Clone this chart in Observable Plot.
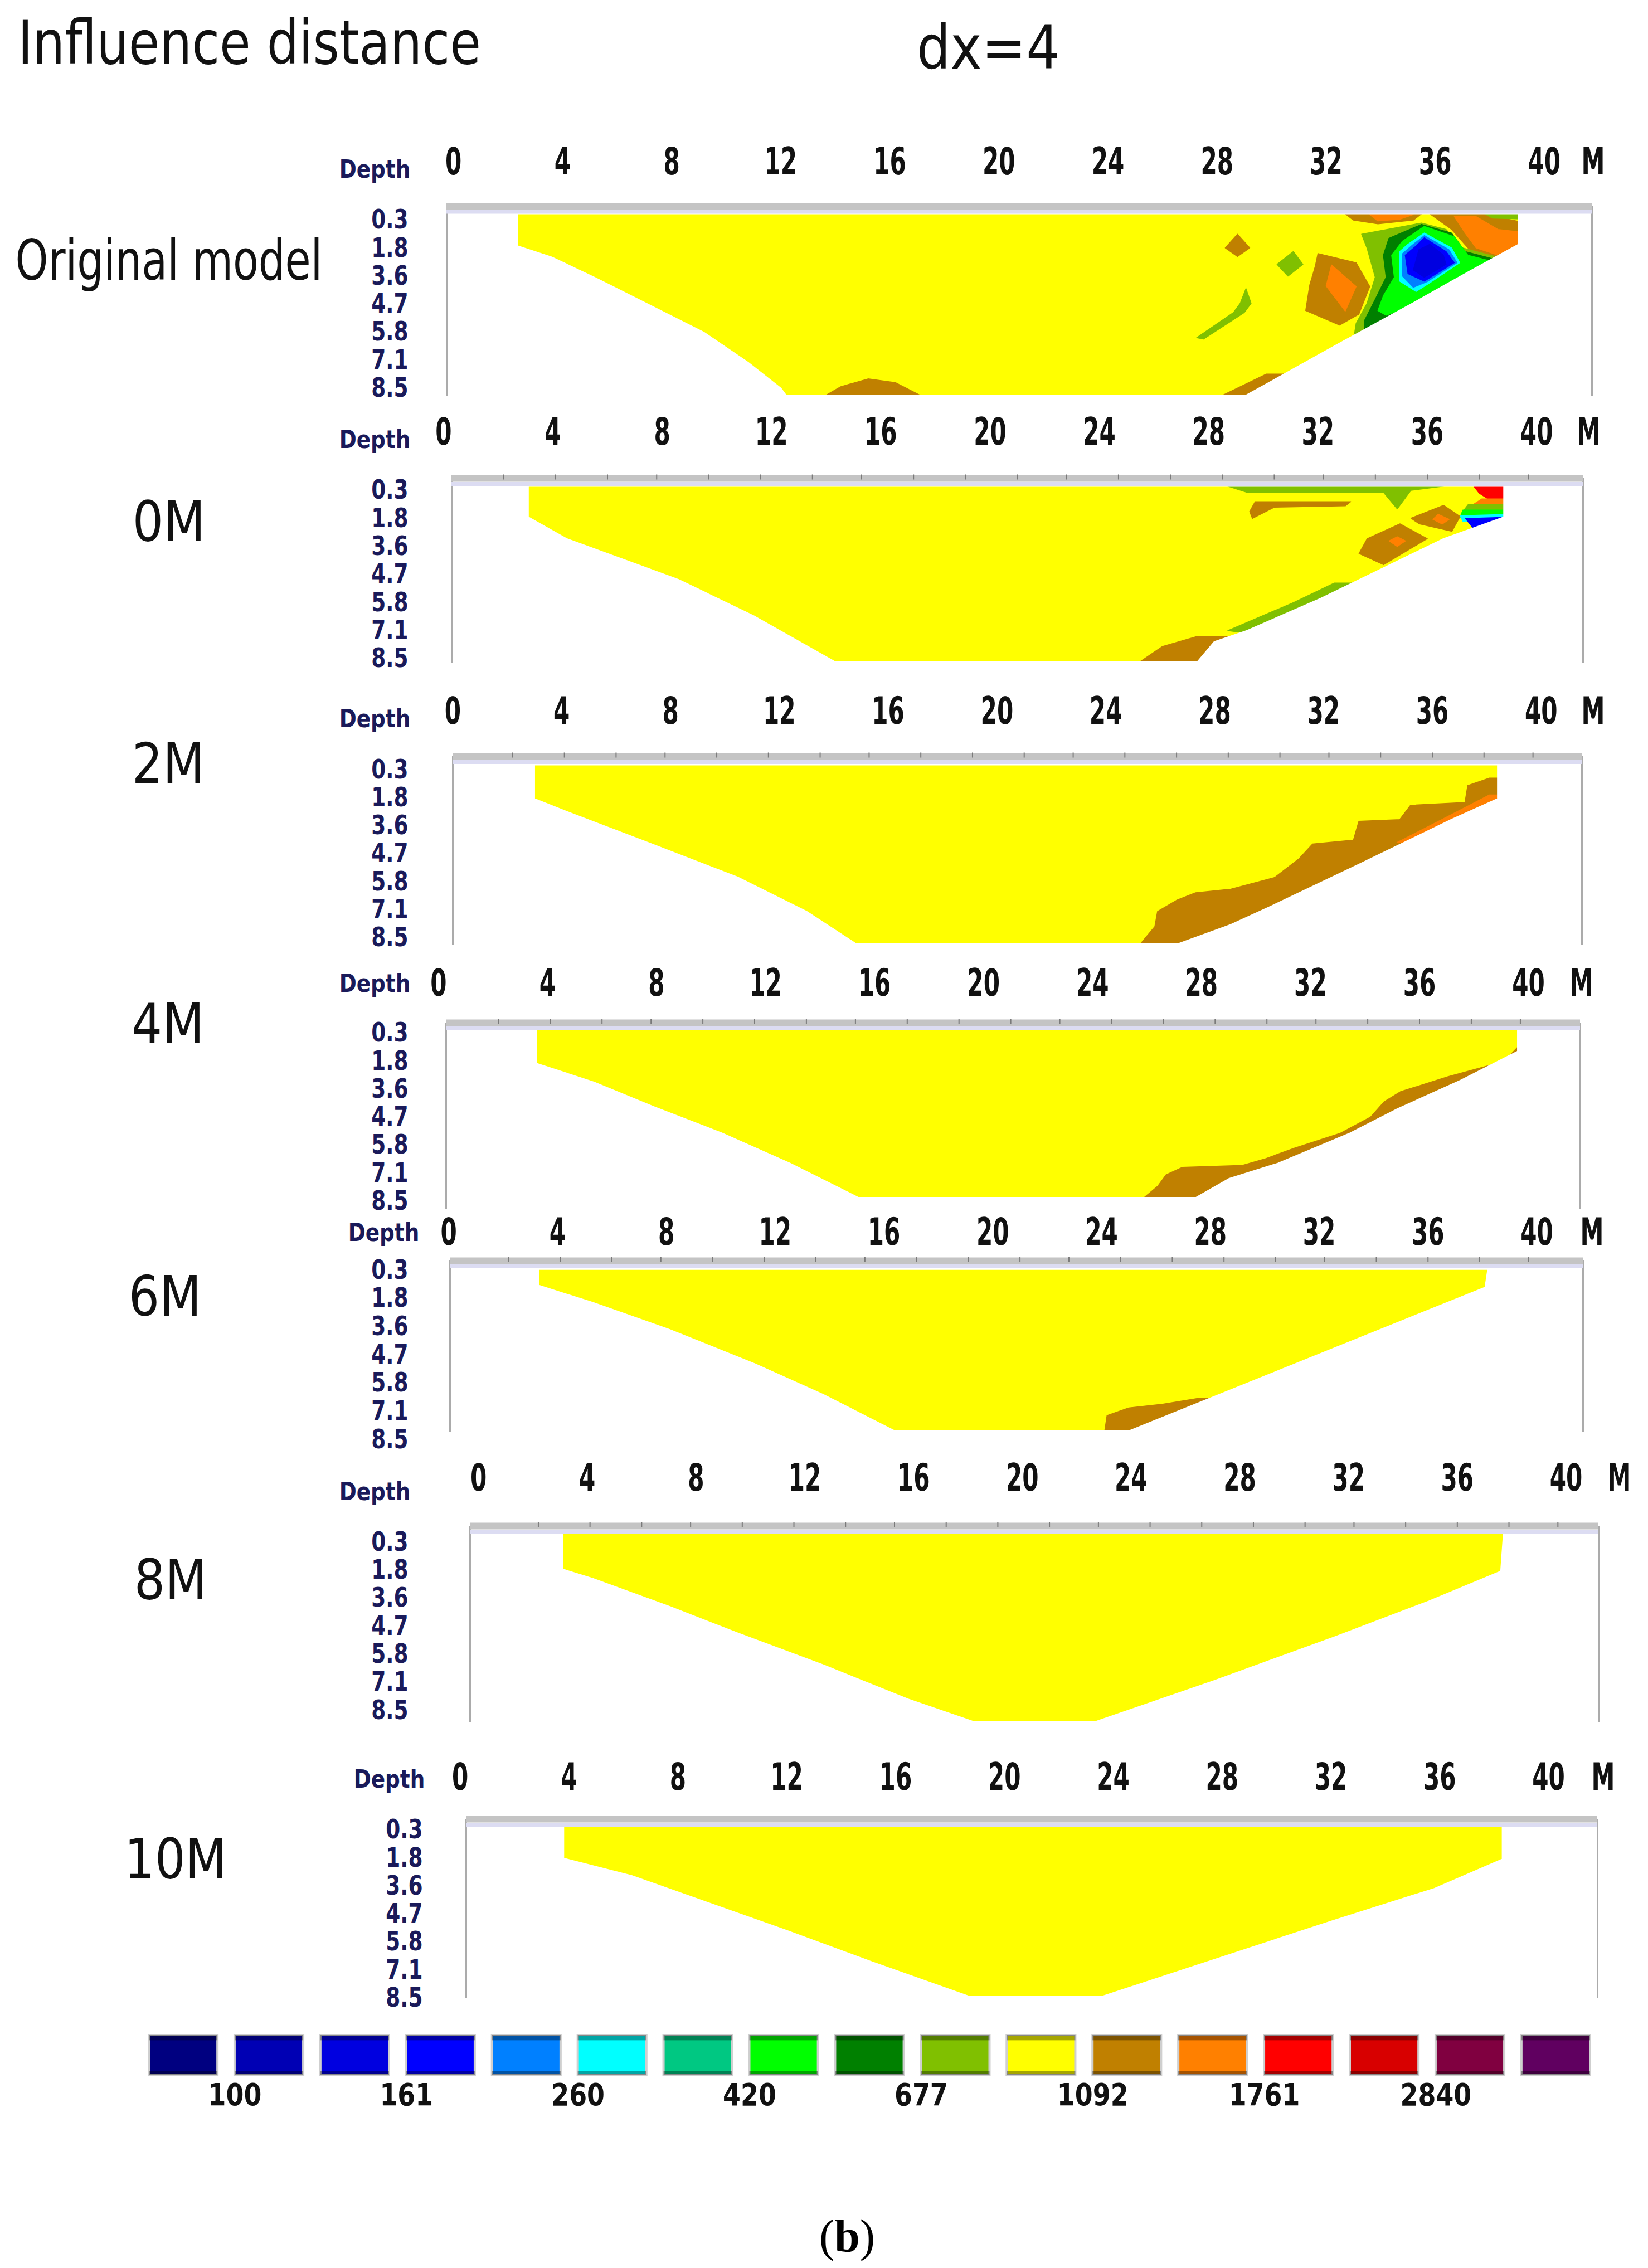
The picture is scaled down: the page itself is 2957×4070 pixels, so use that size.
<!DOCTYPE html>
<html>
<head>
<meta charset="utf-8">
<script src="https://cdn.jsdelivr.net/npm/d3@7"></script>
<script src="https://cdn.jsdelivr.net/npm/@observablehq/plot@0.6"></script>
<style>
  html, body { margin: 0; padding: 0; background: #fff; }
  #page { position: relative; width: 2957px; height: 4070px; overflow: hidden; background: #fff; }
  #page > svg, #page > div { position: absolute; left: 0; }
</style>
</head>
<body>
<div id="page"></div>
<script>
// ---------------- data ----------------
const xTicks = [0, 4, 8, 12, 16, 20, 24, 28, 32, 36, 40];
const depthLabels = ["0.3", "1.8", "3.6", "4.7", "5.8", "7.1", "8.5"];
const barTicks = [2.2, 4.1, 6.0, 7.8, 9.7, 11.6, 13.5, 15.3, 17.2, 19.1, 21.0, 22.8, 24.7, 26.6, 28.5, 30.4, 32.2, 34.1, 36.0, 37.9, 39.7];
const panelNames = ["Original model", "0M", "2M", "4M", "6M", "8M", "10M"];
const legendLabels = ["100", "161", "260", "420", "677", "1092", "1761", "2840"];
const pal = ["#000080", "#0000b4", "#0000e0", "#0000ff", "#0080ff", "#00ffff", "#00c882", "#00ff00",
             "#008000", "#80c000", "#ffff00", "#c08000", "#ff8000", "#ff0000", "#d80000", "#800040", "#600060"];

// pseudosection outlines: [distance (m), depth level index]
const origLeft  = [[2.34,-0.23],[2.34,0.92],[3.6,1.32],[5.16,2.04],[7.19,3.03],[9.2,4.02],[10.8,5.08],[12.0,6.0],[12.2,6.26]];
const origRight = [[39.06,-0.23],[39.06,0.86],[37.3,1.8],[35.2,2.95],[32.3,4.5],[29.06,6.26]];
const origPatches = [
  {c:11, p:[[13.4,6.4],[14.2,5.95],[15.2,5.67],[16.2,5.8],[17.4,6.4]]},
  {c:11, p:[[27.9,6.4],[29.8,5.5],[31.5,5.5],[31.5,6.4]]},
  {c:11, p:[[28.75,0.5],[29.2,0.99],[28.75,1.3],[28.3,0.99]]},
  {c:9,  p:[[29.06,2.44],[29.25,2.97],[29.0,3.3],[27.5,4.25],[27.25,4.2],[28.6,3.3],[28.85,2.97]]},
  {c:9,  p:[[30.8,1.12],[31.15,1.58],[30.6,2.0],[30.2,1.58]]},
  {c:11, p:[[32.7,-0.23],[35.5,-0.23],[35.2,0.0],[33.9,0.13],[33.0,0.0]]},
  {c:12, p:[[33.6,-0.2],[35.2,-0.2],[34.7,-0.03],[33.9,0.03]]},
  {c:11, p:[[35.8,-0.23],[37.7,-0.23],[39.5,0.13],[39.5,0.99],[38.4,1.38],[37.6,1.3],[37.2,0.99],[36.6,0.33]]},
  {c:12, p:[[36.7,-0.13],[37.5,-0.13],[38.3,0.33],[39.5,0.46],[39.5,0.99],[38.3,1.25],[37.5,0.99],[37.1,0.46]]},
  {c:9,  p:[[37.7,-0.3],[39.5,-0.3],[39.5,-0.03],[38.1,-0.07]]},
  {c:9,  p:[[33.3,0.5],[34.4,0.3],[35.5,0.1],[36.4,0.33],[37.0,0.99],[38.2,1.3],[36.4,2.6],[33.0,4.3],[33.1,3.69],[33.5,2.97],[33.8,2.04],[33.5,1.0]]},
  {c:8,  p:[[34.3,0.65],[35.5,0.15],[36.6,0.46],[37.1,1.12],[38.2,1.4],[36.4,2.6],[33.4,3.9],[33.4,3.6],[33.8,2.83],[34.2,2.04],[34.1,1.25]]},
  {c:7,  p:[[34.8,0.75],[35.6,0.22],[36.7,0.59],[37.2,1.25],[38.2,1.5],[36.4,2.6],[34.2,3.4],[33.9,3.23],[34.1,2.7],[34.5,2.04],[34.4,1.25]]},
  {c:5,  p:[[35.0,0.86],[35.6,0.46],[36.6,0.99],[36.9,1.52],[35.8,2.24],[35.3,2.55],[34.7,2.18],[34.7,1.12]]},
  {c:4,  p:[[35.15,0.9],[35.6,0.55],[36.5,1.05],[36.8,1.52],[35.7,2.2],[35.2,2.4],[34.8,2.0],[34.8,1.2]]},
  {c:3,  p:[[35.3,0.92],[35.6,0.63],[36.4,1.12],[36.7,1.52],[35.6,2.18],[35.0,1.91],[34.9,1.25]]},
  {c:2,  p:[[35.4,1.05],[35.8,0.86],[36.3,1.25],[36.4,1.58],[35.6,2.04],[35.2,1.78]]},
  {c:11, p:[[31.7,1.19],[33.1,1.52],[33.6,2.37],[33.2,3.36],[32.5,3.75],[31.25,3.23],[31.4,2.31],[31.6,1.65]]},
  {c:12, p:[[32.2,1.6],[33.1,2.37],[32.7,3.25],[32.0,2.35]]}
];

const m0Left  = [[3.1,-0.15],[3.1,0.95],[4.5,1.72],[8.6,3.18],[11.4,4.5],[14.3,6.1]];
const m0Right = [[38.8,-0.15],[38.8,0.95],[36.6,1.72],[32.1,3.85],[29.4,5.0],[28.2,5.4],[27.6,6.1]];
const m0Patches = [
  {c:9,  p:[[28.7,-0.15],[36.6,-0.15],[35.4,0.0],[34.9,0.66],[34.4,0.07],[29.4,0.07]]},
  {c:11, p:[[29.7,0.4],[33.2,0.4],[33.0,0.55],[30.4,0.6],[29.6,1.0],[29.5,0.75]]},
  {c:11, p:[[36.6,0.53],[37.2,0.93],[36.9,1.46],[35.7,1.19],[35.4,0.99]]},
  {c:12, p:[[36.4,0.85],[36.8,1.03],[36.55,1.2],[36.2,1.03]]},
  {c:11, p:[[35.0,1.19],[36.0,1.72],[34.4,2.65],[33.5,2.25],[33.8,1.72]]},
  {c:12, p:[[34.9,1.65],[35.2,1.8],[34.9,2.0],[34.6,1.8]]},
  {c:13, p:[[37.7,-0.15],[40,-0.15],[40,0.35],[38.3,0.35],[37.9,0.1]]},
  {c:12, p:[[38.0,0.3],[40,0.3],[40,0.5],[37.6,0.55]]},
  {c:9,  p:[[37.5,0.5],[40,0.5],[40,0.7],[37.3,0.75]]},
  {c:7,  p:[[37.3,0.7],[40,0.7],[40,0.85],[37.2,0.95]]},
  {c:5,  p:[[37.2,0.9],[40,0.82],[40,0.95],[37.3,1.1]]},
  {c:3,  p:[[37.4,1.0],[40,0.92],[40,1.5],[37.8,1.5]]},
  {c:9,  p:[[32.6,3.3],[36,3.3],[31,5.3],[28.7,5.0],[31.1,4.0]]},
  {c:11, p:[[25.2,6.3],[26.3,5.57],[27.6,5.2],[30,5.2],[30,6.3]]}
];

const m2Left  = [[3.0,-0.17],[3.0,1.04],[4.2,1.5],[7.3,2.65],[10.5,3.85],[13.0,5.06],[14.8,6.2]];
const m2Right = [[38.4,-0.17],[38.4,1.04],[36.7,1.78],[33.3,3.38],[30.1,4.86],[28.6,5.53],[26.7,6.2]];
const m2Patches = [
  {c:11, p:[[38.1,0.3],[37.3,0.57],[37.2,1.17],[35.2,1.27],[34.8,1.78],[33.3,1.84],[33.1,2.51],[31.6,2.65],[31.1,3.18],[30.2,3.85],[28.6,4.26],[27.3,4.39],[26.6,4.66],[25.9,5.06],[25.8,5.6],[25.2,6.3],[41,6.3],[41,0.3]]},
  {c:12, p:[[38.1,0.9],[41,0.9],[41,2.6],[34.7,2.6],[36.35,1.78]]}
];

const m4Left  = [[3.6,-0.17],[3.6,1.08],[5.7,1.75],[7.9,2.63],[10.4,3.57],[12.9,4.65],[15.4,5.87]];
const m4Right = [[39.6,-0.17],[39.6,0.65],[37.5,1.69],[35.2,2.7],[33.45,3.57],[30.8,4.65],[29.0,5.2],[27.8,5.87]];
const m4Patches = [
  {c:11, p:[[39.6,0.5],[39.1,1.01],[37.05,1.55],[35.3,2.09],[34.7,2.45],[34.2,3.0],[33.1,3.57],[31.4,4.11],[30.3,4.5],[29.5,4.72],[27.3,4.79],[26.7,5.06],[26.4,5.46],[25.9,5.87],[25.9,6.4],[42,6.4],[42,0.5]]}
];

const m6Left  = [[3.3,-0.03],[3.3,0.54],[5.3,1.15],[8.1,2.1],[11.25,3.32],[13.75,4.4],[16.4,5.7]];
const m6Right = [[38.2,-0.03],[38.1,0.61],[25.0,5.7]];
const m6Patches = [
  {c:11, p:[[24.1,5.8],[24.2,5.15],[25.0,4.88],[26.25,4.75],[27.5,4.55],[30,4.55],[30,5.8]]}
];

const m8Left  = [[3.1,-0.3],[3.1,0.97],[4.2,1.3],[7.05,2.31],[9.55,3.25],[12.7,4.39],[15.8,5.6],[18.2,6.4]];
const m8Right = [[37.7,-0.3],[37.6,1.04],[34.95,2.11],[31.5,3.38],[27.1,4.93],[22.7,6.4]];
const m8Patches = [];

const m10Left  = [[3.8,-0.2],[3.8,1.01],[6.3,1.63],[9.15,2.61],[12.0,3.59],[15.1,4.7],[18.7,5.94]];
const m10Right = [[38.3,-0.2],[38.3,1.04],[35.8,2.09],[32.0,3.26],[27.3,4.76],[23.6,5.94]];
const m10Patches = [];

// ---------------- layout (pixels) ----------------
const frames = [
  {L:801, R:2856, xd:[-0.25,41.75], T:369.5, B:711,  yd:[-0.5,6.3],   tickY:291,  depthX:672, depthY:304,  depthR:732, mX:2858, bar:false, nameX:303, nameY:502,  nameS:0.75},
  {L:810, R:2840, xd:[0.3,41.7],    T:858,   B:1189, yd:[-0.43,6.15], tickY:776,  depthX:672, depthY:789,  depthR:732, mX:2850, bar:true,  nameX:303, nameY:971,  nameS:0.87},
  {L:812, R:2838, xd:[0,41.5],      T:1357,  B:1696, yd:[-0.47,6.27], tickY:1277, depthX:672, depthY:1290, depthR:732, mX:2858, bar:true,  nameX:302, nameY:1405, nameS:0.87},
  {L:800, R:2835, xd:[0.28,41.9],   T:1835,  B:2170, yd:[-0.37,6.3],  tickY:1765, depthX:672, depthY:1765, depthR:732, mX:2837, bar:true,  nameX:301, nameY:1872, nameS:0.87},
  {L:807, R:2840, xd:[0.05,41.7],   T:2262,  B:2570, yd:[-0.33,5.75], tickY:2212, depthX:688, depthY:2212, depthR:732, mX:2856, bar:true,  nameX:296, nameY:2361, nameS:0.87},
  {L:843, R:2868, xd:[-0.31,41.2],  T:2738,  B:3090, yd:[-0.57,6.42], tickY:2653, depthX:672, depthY:2677, depthR:732, mX:2905, bar:true,  nameX:306, nameY:2870, nameS:0.87},
  {L:836, R:2866, xd:[0.22,41.8],   T:3264,  B:3585, yd:[-0.39,6.0],  tickY:3190, depthX:698, depthY:3193, depthR:758, mX:2876, bar:false, nameX:315, nameY:3371, nameS:0.86}
];
const sections = [
  [origLeft, origRight, origPatches],
  [m0Left, m0Right, m0Patches],
  [m2Left, m2Right, m2Patches],
  [m4Left, m4Right, m4Patches],
  [m6Left, m6Right, m6Patches],
  [m8Left, m8Right, m8Patches],
  [m10Left, m10Right, m10Patches]
];

const PAGE_W = 2957;
const page = document.getElementById("page");
const condenseBySize = {"68px": 0.62, "44px": 0.85, "48px": 0.78, "56px": 0.82};
const navy = "#1a1a5a";

function condense(svg) {
  svg.querySelectorAll("text").forEach(t => {
    const fs = getComputedStyle(t).fontSize;
    const s = condenseBySize[fs];
    if (!s) return;
    const tr = t.getAttribute("transform") || "";
    t.setAttribute("transform", tr + ` scale(${s},1)`);
  });
}

function place(svg, top) {
  const wrap = document.createElement("div");
  wrap.style.top = top + "px";
  wrap.appendChild(svg);
  page.appendChild(wrap);
  condense(svg);
}

const baseStyle = {fontFamily: "'DejaVu Sans', sans-serif", background: "transparent", overflow: "visible"};

function drawPanel(f, left, right, patches) {
  const top = Math.round(f.T - 130);
  const bottomPad = 20;
  const H = Math.round(f.B - top + bottomPad);
  const [x0, x1] = f.xd, [y0, y1] = f.yd;
  const yTop = left[0][1];
  const yBot = left[left.length - 1][1];
  const toRows = (id, color, pts) => pts.map(([x, y]) => ({id, color, x, y}));
  const fillRows = [
    ...toRows("shape", pal[10], [...left, ...right.slice().reverse()]),
    ...patches.flatMap((p, k) => toRows("p" + k, pal[p.c], p.p))
  ];
  const X0 = x0 - 3, X1 = x1 + 3, Y0 = y0 - 1, Y1 = y1 + 1;
  const maskRows = [
    ...toRows("mt", "#fff", [[X0, Y0], [X1, Y0], [X1, yTop], [X0, yTop]]),
    ...toRows("ml", "#fff", [[X0, yTop], ...left, [X0, yBot]]),
    ...toRows("mr", "#fff", [[X1, yTop], ...right, [X1, yBot]]),
    ...toRows("mb", "#fff", [[X0, yBot], [X1, yBot], [X1, Y1], [X0, Y1]])
  ];
  const marks = [
    Plot.line(fillRows, {x: "x", y: "y", z: "id", fill: "color", stroke: "color", strokeWidth: 1.5, curve: "linear-closed", clip: true}),
    Plot.line(maskRows, {x: "x", y: "y", z: "id", fill: "#fff", stroke: "#fff", strokeWidth: 2, curve: "linear-closed", clip: true}),
    Plot.ruleX([x0, x1], {stroke: "#ababab", strokeWidth: 3}),
    Plot.ruleY([y0], {dy: 10, stroke: "#dcdcf2", strokeWidth: 7}),
    Plot.ruleY([y0], {stroke: "#c4c4c4", strokeWidth: 12})
  ];
  if (f.bar) marks.push(Plot.ruleX(barTicks, {x: d => d, y1: y0 - 0.13, y2: y0 + 0.05, stroke: "#7a7a7a", strokeWidth: 2}));
  marks.push(
    Plot.text(xTicks, {x: d => d, text: d => String(d), frameAnchor: "top", lineAnchor: "middle", textAnchor: "middle", dy: f.tickY - f.T, fontSize: 68, fontWeight: "bold", fill: "#111"}),
    Plot.text(["M"], {text: d => d, frameAnchor: "top-right", lineAnchor: "middle", textAnchor: "middle", dx: f.mX - f.R, dy: f.tickY - f.T, fontSize: 68, fontWeight: "bold", fill: "#111"}),
    Plot.text(["Depth"], {text: d => d, frameAnchor: "top-left", lineAnchor: "middle", textAnchor: "middle", dx: f.depthX - f.L, dy: f.depthY - f.T, fontSize: 44, fontWeight: "bold", fill: navy}),
    Plot.text(depthLabels, {y: (d, i) => i, text: d => d, frameAnchor: "left", lineAnchor: "middle", textAnchor: "end", dx: f.depthR - f.L, fontSize: 48, fontWeight: "bold", fill: navy})
  );
  const svg = Plot.plot({
    width: PAGE_W, height: H,
    marginLeft: f.L, marginRight: PAGE_W - f.R,
    marginTop: f.T - top, marginBottom: H - (f.B - top),
    x: {domain: f.xd, axis: null},
    y: {domain: f.yd, reverse: true, axis: null},
    color: {type: "identity"},
    style: baseStyle,
    marks
  });
  place(svg, top);
}

frames.forEach((f, i) => drawPanel(f, ...sections[i]));

// ---------------- legend ----------------
(function () {
  const top = 3620, L = 267, R = 2853;
  const sw = pal.map((c, i) => ({i, c}));
  const svg = Plot.plot({
    width: PAGE_W, height: 170,
    marginLeft: L, marginRight: PAGE_W - R, marginTop: 32, marginBottom: 66,
    x: {domain: [0, 16.8], axis: null},
    y: {domain: [0, 1], axis: null},
    color: {type: "identity"},
    style: baseStyle,
    marks: [
      Plot.rect(sw, {x1: d => d.i, x2: d => d.i + 0.8, y1: 0, y2: 1, fill: d => d.c, stroke: "#cfcfcf", strokeWidth: 4}),
      Plot.rect(sw, {x1: d => d.i, x2: d => d.i + 0.8, y1: 0.87, y2: 1, fill: "#000", fillOpacity: 0.35}),
      Plot.rect(sw, {x1: d => d.i, x2: d => d.i + 0.8, y1: 0, y2: 0.11, fill: "#000", fillOpacity: 0.35}),
      Plot.text(legendLabels, {x: (d, i) => 2 * i + 1, text: d => d, frameAnchor: "bottom", lineAnchor: "middle", textAnchor: "middle", dy: 36, fontSize: 56, fontWeight: "bold", fill: "#111"})
    ]
  });
  place(svg, top);
})();

// ---------------- titles, row labels, caption ----------------
(function () {
  const svg = d3.select(page).insert("svg", ":first-child")
    .attr("width", PAGE_W).attr("height", 4070)
    .style("top", "0px")
    .style("font-family", "'DejaVu Sans', sans-serif");
  svg.append("text").attr("transform", "translate(32,114) scale(0.84,1)")
    .attr("font-size", 108).attr("fill", "#111").text("Influence distance");
  svg.append("text").attr("transform", "translate(1645,123) scale(0.88,1)")
    .attr("font-size", 108).attr("fill", "#111").text("dx=4");
  frames.forEach((f, i) => {
    svg.append("text")
      .attr("transform", `translate(${f.nameX},${f.nameY}) scale(${f.nameS},1)`)
      .attr("text-anchor", "middle").attr("font-size", 100).attr("fill", "#111")
      .text(panelNames[i]);
  });
  const cap = svg.append("text").attr("x", 1520).attr("y", 4040)
    .attr("text-anchor", "middle").attr("font-size", 82)
    .attr("font-family", "'Liberation Serif', serif").attr("fill", "#000");
  cap.append("tspan").text("(");
  cap.append("tspan").attr("font-weight", "bold").text("b");
  cap.append("tspan").text(")");
})();
</script>
</body>
</html>
